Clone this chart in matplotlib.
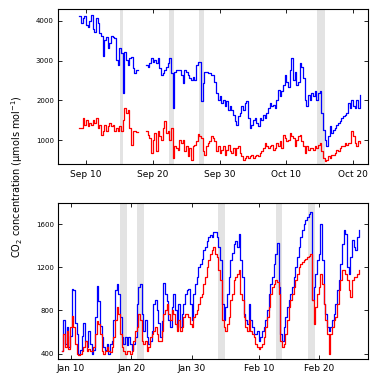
import matplotlib
matplotlib.use('Agg')
import matplotlib.pyplot as plt
import matplotlib.dates as mdates
import numpy as np
import pandas as pd

# panel 1: Sep-Oct, one reading every 6 h from Sep 9 00:00 (gap Sep 17.5-19)
top_start = '2012-09-09 00:00'
top_step_h = 6.0
top_blue = [4115, 3935, 4060, 4115, 3890, 3850, 4000, 4140, 3800, 3725, 4060, 3935,
            3700, 3620, 3115, 3515, 3600, 3310, 3435, 3620, 3600, 3560, 3015, 2890,
            3310, 3185, 2185, 3225, 3015, 2890, 3060, 3100, 2810, 2685, 2765,
            None, None, None, None, None,
            2890, 2850, 2935, 3060, 2975, 3015, 2935, 3060, 2810, 2640, 2700, 2765,
            2850, 2935, 3060, 2685, 1810, 2725, 2765, 2765, 2765, 2640, 2435, 2765,
            2725, 2640, 2560, 2515, 2600, 2515, 2890, 2975, 2975, 1975, 2435, 2725,
            2725, 2685, 2685, 2640, 2640, 2475, 2185, 2015, 2100, 1935, 2015, 1850,
            1975, 1765, 1850, 1765, 1640, 1475, 1390, 1600, 1685, 1850, 1765, 1935,
            1975, 1560, 1310, 1390, 1515, 1560, 1435, 1350, 1560, 1515, 1640, 1560,
            1685, 1810, 1935, 1850, 1890, 1810, 2015, 2265, 2100, 2225, 2390, 2640,
            2475, 2350, 2765, 3060, 2515, 2725, 2390, 2475, 2935, 2850, 2560, 2015,
            1850, 2140, 2015, 2185, 2100, 2225, 2015, 2185, 2225, 1685, 1265, 1015,
            850, 1100, 1350, 1185, 1270, 1310, 1390, 1435, 1475, 1560, 1600, 1640,
            1685, 1935, 1810, 2015, 1850, 1810, 2015, 1810, 2140]
top_red = [1310, 1310, 1560, 1390, 1515, 1350, 1435, 1390, 1515, 1435, 1560, 1310,
           1390, 1140, 1225, 1390, 1225, 1350, 1435, 1350, 1390, 1225, 1310, 1225,
           1350, 1225, 1515, 1810, 1685, 1765, 1310, 890, 1225, 1225, 1200,
           None, None, None, None, None,
           1225, 1140, 1060, 685, 1015, 1185, 725, 1225, 1100, 1015, 1310, 1475,
           1185, 1225, 1015, 1310, 560, 850, 810, 765, 1015, 935, 1015, 725,
           850, 600, 810, 515, 850, 890, 975, 1150, 1100, 1060, 725, 640,
           850, 935, 975, 1100, 1060, 975, 725, 850, 685, 765, 850, 640,
           765, 890, 725, 685, 810, 640, 810, 850, 685, 600, 515, 560,
           600, 560, 600, 640, 560, 600, 640, 600, 685, 725, 810, 935,
           850, 810, 850, 890, 765, 810, 935, 850, 975, 810, 1140, 1060,
           975, 1015, 1185, 1100, 1060, 850, 1015, 1100, 1140, 975, 850, 690,
           850, 765, 810, 810, 765, 850, 810, 890, 935, 725, 560, 475,
           515, 600, 560, 640, 640, 685, 765, 725, 810, 850, 850, 935,
           890, 935, 935, 1225, 1100, 935, 850, 975, 935]
top_bands = [('2012-09-15 01:00', '2012-09-15 13:00'), ('2012-09-22 10:00', '2012-09-23 03:00'),
             ('2012-09-26 22:00', '2012-09-27 17:00'), ('2012-10-14 14:00', '2012-10-15 19:00')]
top_ticks = ['2012-09-10', '2012-09-20', '2012-09-30', '2012-10-10', '2012-10-20']

# panel 2: Jan-Feb, one reading every 6.6 h from Jan 8 12:30
bot_start = '2013-01-08 12:30'
bot_step_h = 6.6
bot_blue = [428, 707, 490, 650, 460, 560, 1000, 990, 680, 580, 397, 430,
            560, 680, 520, 460, 610, 490, 400, 430, 740, 1030, 890, 660,
            550, 460, 430, 490, 400, 490, 520, 707, 990, 1050, 955, 740,
            550, 490, 550, 475, 550, 490, 430, 490, 550, 860, 1017, 1050,
            770, 610, 707, 550, 490, 520, 610, 860, 900, 800, 680, 550,
            700, 1060, 955, 890, 710, 645, 830, 955, 800, 645, 860, 645,
            770, 860, 955, 986, 1000, 860, 710, 955, 1050, 1110, 1200, 1230,
            1280, 1360, 1390, 1450, 1480, 1500, 1480, 1530, 1530, 1480, 1390, 1265,
            860, 710, 830, 955, 1110, 1265, 1330, 1420, 1450, 1390, 1510, 1265,
            1110, 770, 710, 676, 860, 710, 645, 583, 583, 614, 520, 552,
            614, 645, 707, 800, 955, 1048, 1110, 1234, 1327, 1430, 1017, 583,
            521, 645, 738, 831, 893, 955, 1017, 1110, 1203, 1296, 1389, 1482,
            1544, 1606, 1640, 1670, 1700, 1715, 893, 1017, 1141, 1265, 1327, 1606,
            1265, 862, 769, 645, 614, 645, 707, 769, 862, 986, 1079, 1234,
            1420, 1544, 1513, 1203, 1141, 1296, 1451, 1389, 1358, 1482, 1544]
bot_red = [428, 583, 459, 614, 445, 645, 745, 645, 490, 397, 382, 397,
           428, 459, 521, 428, 445, 428, 428, 459, 583, 700, 676, 583,
           428, 397, 428, 459, 428, 413, 459, 552, 707, 830, 769, 583,
           459, 428, 397, 428, 428, 397, 428, 521, 614, 645, 770, 707,
           521, 490, 521, 428, 459, 552, 583, 614, 645, 583, 521, 521,
           614, 769, 800, 862, 769, 707, 800, 769, 676, 614, 707, 614,
           645, 738, 769, 769, 738, 676, 645, 738, 769, 800, 862, 924,
           955, 1048, 1110, 1203, 1265, 1327, 1358, 1389, 1327, 1296, 1172, 1079,
           707, 645, 614, 676, 738, 893, 955, 1079, 1110, 1141, 1172, 955,
           893, 738, 645, 614, 707, 614, 583, 552, 490, 459, 445, 459,
           490, 552, 645, 738, 831, 955, 1017, 1048, 1079, 1063, 955, 521,
           459, 490, 583, 707, 831, 893, 955, 1017, 1079, 1141, 1203, 1234,
           1250, 1265, 1280, 1296, 1311, 1327, 893, 676, 831, 955, 1017, 1141,
           1048, 862, 707, 583, 397, 583, 645, 707, 738, 862, 986, 1079,
           1172, 1172, 1141, 1079, 986, 924, 1079, 1110, 1110, 1141, 1172]
bot_bands = [('2013-01-18 02:00', '2013-01-19 05:00'), ('2013-01-20 22:00', '2013-01-22 03:00'),
             ('2013-02-03 05:00', '2013-02-04 10:00'), ('2013-02-12 22:00', '2013-02-13 19:00'),
             ('2013-02-18 05:00', '2013-02-19 05:00')]
bot_ticks = ['2013-01-10', '2013-01-20', '2013-01-30', '2013-02-10', '2013-02-20']


def series(start, step_h, vals):
    t = pd.Timestamp(start) + pd.to_timedelta(np.arange(len(vals)) * step_h, unit='h')
    v = np.array([np.nan if x is None else x for x in vals], dtype=float)
    return t, v


def draw(ax, start, step_h, blue, red, bands, ticks, xlim, ylim, yticks):
    for a, b in bands:
        ax.axvspan(pd.Timestamp(a), pd.Timestamp(b), color='#e3e3e3', lw=0, zorder=0)
    t, v = series(start, step_h, blue)
    ax.plot(t, v, color='#0000ff', lw=0.9, drawstyle='steps-post')
    t, v = series(start, step_h, red)
    ax.plot(t, v, color='#ff0000', lw=0.9, drawstyle='steps-post')
    ax.set_xlim(pd.Timestamp(xlim[0]), pd.Timestamp(xlim[1]))
    ax.set_ylim(*ylim)
    ax.set_xticks([pd.Timestamp(s) for s in ticks])
    ax.xaxis.set_major_formatter(mdates.DateFormatter('%b %d'))
    ax.set_yticks(yticks)
    ax.tick_params(direction='in', length=3, width=0.6, top=True, right=True, pad=3)
    ax.tick_params(axis='x', labelsize=6.5, pad=4)
    ax.tick_params(axis='y', labelsize=5)
    for s in ax.spines.values():
        s.set_linewidth(0.8)


fig = plt.figure(figsize=(3.82, 3.88), dpi=100)
ax1 = fig.add_axes([0.152, 0.577, 0.811, 0.4])
ax2 = fig.add_axes([0.152, 0.075, 0.811, 0.402])

draw(ax1, top_start, top_step_h, top_blue, top_red, top_bands, top_ticks,
     ('2012-09-05 20:00', '2012-10-22 05:00'), (400, 4300), [1000, 2000, 3000, 4000])
draw(ax2, bot_start, bot_step_h, bot_blue, bot_red, bot_bands, bot_ticks,
     ('2013-01-07 22:00', '2013-02-28 00:00'), (350, 1800), [400, 800, 1200, 1600])

fig.text(0.044, 0.545, 'CO$_2$ concentration (\u00b5mols mol$^{-1}$)', rotation=90,
         ha='center', va='center', fontsize=7)

fig.savefig('out.png', dpi=100)
